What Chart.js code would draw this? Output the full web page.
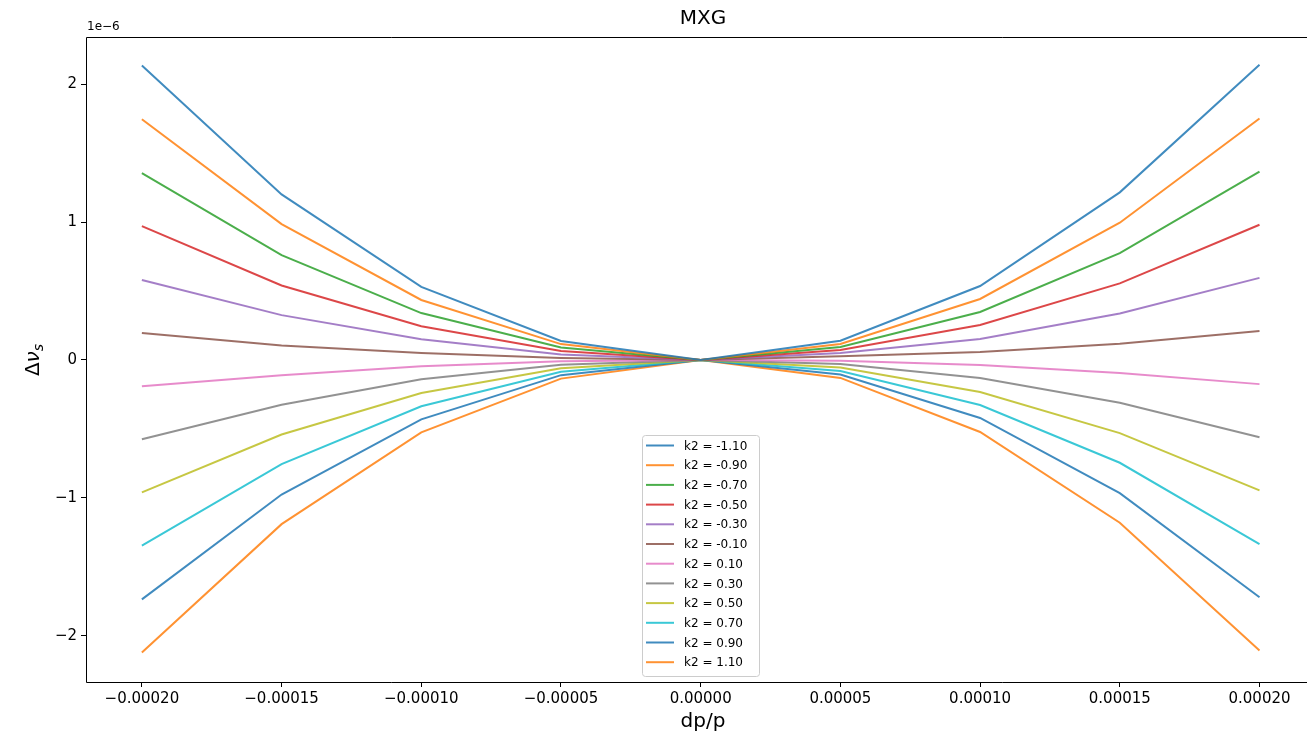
<!DOCTYPE html>
<html>
<head>
<meta charset="utf-8">
<script src="https://cdn.jsdelivr.net/npm/chart.js@4"></script>
<style>
  body { margin: 0; background: #fff; }
  #wrap { width: 1307px; height: 738px; }
</style>
</head>
<body>
<div id="wrap"><canvas id="grafica"></canvas></div>
<script>
// ---------------- DATOS (eje y en unidades de 1e-6) ----------------
const dpp = [-0.0002, -0.00015, -0.0001, -0.00005, 0, 0.00005, 0.0001, 0.00015, 0.0002];
const xTicks = [-0.0002, -0.00015, -0.0001, -0.00005, 0, 0.00005, 0.0001, 0.00015, 0.0002];
const yTicks = [-2, -1, 0, 1, 2];
const k2Labels = ['k2 = -1.10', 'k2 = -0.90', 'k2 = -0.70', 'k2 = -0.50', 'k2 = -0.30', 'k2 = -0.10',
                  'k2 = 0.10', 'k2 = 0.30', 'k2 = 0.50', 'k2 = 0.70', 'k2 = 0.90', 'k2 = 1.10'];

const k2_m110 = [2.135, 1.20, 0.53, 0.138, 0, 0.14, 0.536, 1.215, 2.14];
const k2_m090 = [1.745, 0.985, 0.435, 0.115, 0, 0.116, 0.442, 0.995, 1.75];
const k2_m070 = [1.355, 0.76, 0.34, 0.09, 0, 0.094, 0.348, 0.775, 1.365];
const k2_m050 = [0.97, 0.54, 0.245, 0.065, 0, 0.072, 0.254, 0.555, 0.98];
const k2_m030 = [0.58, 0.325, 0.15, 0.04, 0, 0.05, 0.152, 0.337, 0.595];
const k2_m010 = [0.195, 0.105, 0.05, 0.015, 0, 0.027, 0.058, 0.118, 0.21];
const k2_p010 = [-0.19, -0.11, -0.045, -0.01, 0, -0.005, -0.036, -0.095, -0.175];
const k2_p030 = [-0.575, -0.325, -0.14, -0.035, 0, -0.03, -0.13, -0.31, -0.56];
const k2_p050 = [-0.96, -0.54, -0.24, -0.06, 0, -0.055, -0.232, -0.53, -0.945];
const k2_p070 = [-1.345, -0.755, -0.335, -0.085, 0, -0.08, -0.326, -0.745, -1.335];
const k2_p090 = [-1.735, -0.975, -0.43, -0.11, 0, -0.105, -0.42, -0.965, -1.72];
const k2_p110 = [-2.12, -1.19, -0.525, -0.135, 0, -0.13, -0.522, -1.18, -2.105];

const series = [k2_m110, k2_m090, k2_m070, k2_m050, k2_m030, k2_m010,
                k2_p010, k2_p030, k2_p050, k2_p070, k2_p090, k2_p110];
const colores = ['rgba(31,119,180,0.85)', 'rgba(255,127,14,0.85)', 'rgba(44,160,44,0.85)',
                 'rgba(214,39,40,0.85)', 'rgba(148,103,189,0.85)', 'rgba(140,86,75,0.85)',
                 'rgba(227,119,194,0.85)', 'rgba(127,127,127,0.85)', 'rgba(188,189,34,0.85)',
                 'rgba(23,190,207,0.85)', 'rgba(31,119,180,0.85)', 'rgba(255,127,14,0.85)'];

const menos = s => s.replace('-', '\u2212');

// ---------------- TEXTOS, MARCO Y LEYENDA ----------------
const extras = {
    id: 'extras',
    afterDraw(chart) {
        const ctx = chart.ctx;
        const a = chart.chartArea;
        ctx.save();

        // marco (el borde derecho queda fuera de la imagen)
        ctx.strokeStyle = '#000';
        ctx.lineWidth = 1;
        ctx.beginPath();
        ctx.moveTo(a.right + 0.5, a.top + 0.5);
        ctx.lineTo(a.left + 0.5, a.top + 0.5);
        ctx.lineTo(a.left + 0.5, a.bottom + 0.5);
        ctx.lineTo(a.right + 0.5, a.bottom + 0.5);
        ctx.stroke();

        // título
        ctx.fillStyle = '#000';
        ctx.textAlign = 'center';
        ctx.textBaseline = 'middle';
        ctx.font = '20px "DejaVu Sans"';
        ctx.fillText('MXG', 703, 19);

        // eje x
        ctx.fillText('dp/p', 703, 722);

        // factor de escala
        ctx.font = '12px "DejaVu Sans"';
        ctx.textAlign = 'left';
        ctx.fillText('1e\u22126', 87, 27);

        // eje y: Δν_s
        ctx.translate(32, 360);
        ctx.rotate(-Math.PI / 2);
        ctx.textAlign = 'left';
        ctx.textBaseline = 'alphabetic';
        ctx.font = '20px "DejaVu Sans"';
        const wD = ctx.measureText('\u0394').width;
        ctx.font = 'italic 20px "DejaVu Sans"';
        const wN = ctx.measureText('\u03bd').width;
        ctx.font = 'italic 14px "DejaVu Sans"';
        const wS = ctx.measureText('s').width;
        let x0 = -(wD + wN + wS) / 2;
        ctx.font = '20px "DejaVu Sans"';
        ctx.fillText('\u0394', x0, 7);
        ctx.font = 'italic 20px "DejaVu Sans"';
        ctx.fillText('\u03bd', x0 + wD, 7);
        ctx.font = 'italic 14px "DejaVu Sans"';
        ctx.fillText('s', x0 + wD + wN, 11);
        ctx.restore();

        // leyenda
        ctx.save();
        const bx = 642.5, by = 435.5, bw = 117, bh = 241;
        ctx.fillStyle = 'rgba(255,255,255,0.8)';
        ctx.strokeStyle = '#cccccc';
        ctx.lineWidth = 1;
        ctx.beginPath();
        ctx.roundRect(bx, by, bw, bh, 3);
        ctx.fill();
        ctx.stroke();
        ctx.font = '12px "DejaVu Sans"';
        ctx.textAlign = 'left';
        ctx.textBaseline = 'middle';
        chart.data.datasets.forEach((ds, i) => {
            const y = 445.5 + i * 19.7;
            ctx.strokeStyle = ds.borderColor;
            ctx.lineWidth = 2;
            ctx.beginPath();
            ctx.moveTo(646, y);
            ctx.lineTo(674, y);
            ctx.stroke();
            ctx.fillStyle = '#000';
            ctx.fillText(ds.label, 684, y + 1);
        });
        ctx.restore();
    }
};

// ---------------- GRÁFICA ----------------
new Chart(document.getElementById('grafica').getContext('2d'), {
    type: 'line',
    data: {
        datasets: series.map((s, i) => ({
            label: k2Labels[i],
            data: dpp.map((x, j) => ({ x: x, y: s[j] })),
            borderColor: colores[i],
            backgroundColor: colores[i],
            borderWidth: 2,
            pointRadius: 0,
            tension: 0,
            fill: false
        }))
    },
    options: {
        responsive: true,
        maintainAspectRatio: false,
        animation: false,
        layout: { padding: { top: 37, left: 0, right: 0, bottom: 0 } },
        plugins: {
            legend: { display: false },
            title: { display: false },
            tooltip: { enabled: false }
        },
        scales: {
            x: {
                type: 'linear',
                min: -0.00022,
                max: 0.000217,
                afterFit: s => { s.height = 56; },
                afterBuildTicks: s => { s.ticks = xTicks.map(v => ({ value: v })); },
                grid: { drawOnChartArea: false, drawTicks: true, tickLength: 5, color: '#000' },
                border: { display: false },
                ticks: {
                    color: '#000',
                    padding: 3,
                    maxRotation: 0,
                    font: { family: 'DejaVu Sans', size: 15 },
                    callback: v => menos(v.toFixed(5))
                }
            },
            y: {
                type: 'linear',
                min: -2.334,
                max: 2.341,
                afterFit: s => { s.width = 86; },
                afterBuildTicks: s => { s.ticks = yTicks.map(v => ({ value: v })); },
                grid: { drawOnChartArea: false, drawTicks: true, tickLength: 5, color: '#000' },
                border: { display: false },
                ticks: {
                    color: '#000',
                    padding: 4,
                    font: { family: 'DejaVu Sans', size: 15 },
                    callback: v => menos(String(v))
                }
            }
        }
    },
    plugins: [extras]
});
</script>
</body>
</html>
